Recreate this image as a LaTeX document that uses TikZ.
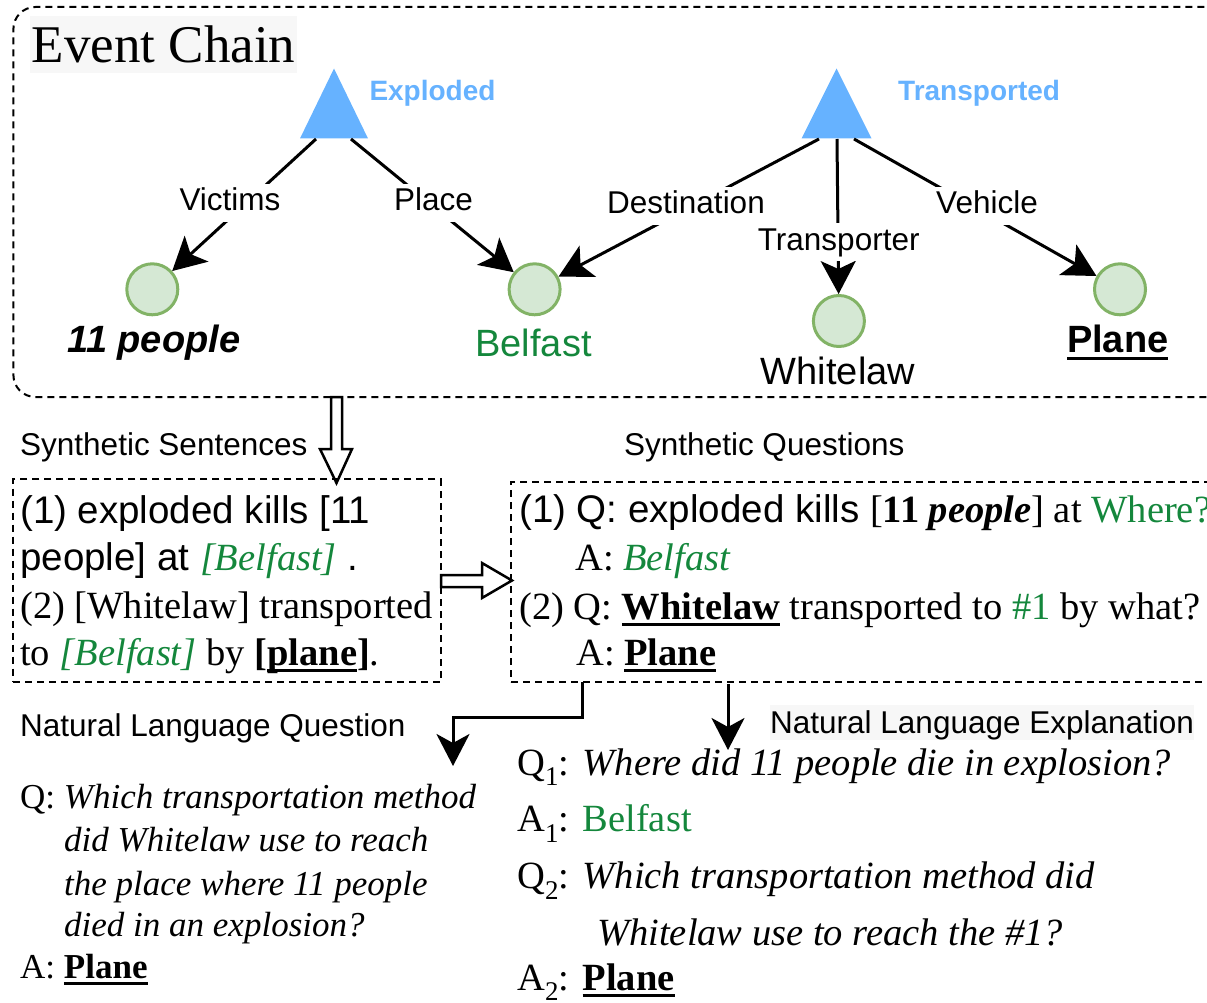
\documentclass[tikz,border=0pt]{standalone}
\usepackage{fontspec}
\setmainfont{Liberation Serif}
\setsansfont{Liberation Sans}
\usetikzlibrary{arrows.meta,calc}
\definecolor{tgreen}{RGB}{20,135,60}
\definecolor{tblue}{HTML}{66B2FF}
\definecolor{cfill}{HTML}{D5E8D4}
\definecolor{cstroke}{HTML}{82B366}
\definecolor{lbg}{RGB}{247,247,247}
\newcommand{\myul}[1]{\setbox0=\hbox{#1}\rlap{\rule[-0.19em]{\wd0}{0.08em}}\box0}
\newcommand{\sbs}[1]{\raisebox{-0.28em}{\fontsize{27}{30}\selectfont #1}}
\newcommand{\fBig}{\fontsize{38.5}{46}\selectfont}
\newcommand{\fNode}{\fontsize{38}{44}\selectfont}
\newcommand{\fSec}{\fontsize{31.5}{36}\selectfont}
\newcommand{\fNLQ}{\fontsize{35}{42}\selectfont}
\tikzset{
  dbox/.style={draw, line width=2pt, dash pattern=on 7pt off 5pt, inner sep=0pt, outer sep=0pt},
  ent/.style={circle, draw=cstroke, fill=cfill, line width=3pt, minimum size=51pt, inner sep=0pt},
  earr/.style={line width=3pt, -{Stealth[length=33pt,width=35pt,inset=8pt]}},
  carr/.style={line width=3pt, -{Stealth[length=32pt,width=33pt,inset=9pt]}},
  elab/.style={fill=white, font=\sffamily\fSec, inner xsep=2pt, inner ysep=3pt, text height=24pt, text depth=8pt, anchor=base},
  ntxt/.style={font=\sffamily\fNode, inner sep=0pt, anchor=base},
  evl/.style={font=\sffamily\bfseries\fontsize{28}{32}\selectfont, text=tblue, inner sep=0pt, anchor=base west},
  sec/.style={font=\sffamily\fSec, inner sep=0pt, anchor=base west},
  bt/.style={font=\fBig, inner sep=0pt, anchor=base west},
  nt/.style={font=\fNLQ, inner sep=0pt, anchor=base west},
  hollow/.style={draw, line width=2.5pt, fill=white, line join=miter}
}
\begin{document}
\begin{tikzpicture}[x=1pt, y=-1pt]
\useasboundingbox (0,0) rectangle (1207,1003);

% Event chain frame
\node[dbox, rounded corners=22pt, anchor=north west, minimum width=1225pt, minimum height=390pt] (chain) at (13.4,7) {};
\node[fill=lbg, anchor=north west, minimum width=267pt, minimum height=57pt, inner sep=0pt, font=\fontsize{53}{60}\selectfont] (ectitle) at (30,16) {Event Chain};

% triggers
\fill[tblue] (300,138.5) -- (334,68.5) -- (368,138.5) -- cycle;
\fill[tblue] (801.5,138.5) -- (836.5,68.5) -- (871.5,138.5) -- cycle;
\coordinate (e1v) at (316,139);
\coordinate (e1p) at (351,139);
\coordinate (e2d) at (819,139);
\coordinate (e2t) at (837,139);
\coordinate (e2v) at (854,139);
\node[evl] (ev1) at (369.3,101) {Exploded};
\node[evl] (ev2) at (898,101) {Transported};

% entities
\node[ent] (c1) at (152.3,289.3) {};
\node[ent] (c2) at (534.6,289.3) {};
\node[ent] (c3) at (838.9,321) {};
\node[ent] (c4) at (1120,289.3) {};

% edges
\draw[earr] (e1v) -- (c1);
\draw[earr] (e1p) -- (c2);
\draw[earr] (e2d) -- (c2);
\draw[earr] (e2t) -- (c3);
\draw[earr] (e2v) -- (c4);

% edge labels
\node[elab] (lv) at (230,210.7) {Victims};
\node[elab] (lp) at (433.5,210.7) {Place};
\node[elab] (ld) at (686,214) {Destination};
\node[elab] (lt) at (838.7,250) {Transporter};
\node[elab] (lve) at (987,214) {Vehicle};

% entity names
\node[ntxt, font=\sffamily\bfseries\itshape\fNode] (n1) at (154,352.7) {11 people};
\node[ntxt, text=tgreen] (n2) at (533.5,356) {Belfast};
\node[ntxt] (n3) at (838,384) {Whitelaw};
\node[ntxt, font=\sffamily\bfseries\fNode] (n4) at (1117.7,352.7) {\myul{Plane}};

% hollow arrows
\draw[hollow] (331,397) -- (331,449) -- (320,449) -- (336.5,483) -- (352,449) -- (342,449) -- (342,397) -- cycle;
\draw[hollow] (441,575) -- (482,575) -- (482,563) -- (512,580.5) -- (482,598) -- (482,587) -- (441,587) -- cycle;

% section labels
\node[sec] (lss) at (20,455) {Synthetic Sentences};
\node[sec] (lsq) at (624,455) {Synthetic Questions};
\node[sec] (lnq) at (20,736) {Natural Language Question};
\node[sec, fill=lbg, text height=28pt, text depth=6.7pt] (lne) at (770,733.3) {Natural Language Explanation};

% synthetic sentences box
\node[dbox, anchor=north west, minimum width=427.7pt, minimum height=203pt] (ss) at (13,479) {};
\node[bt] (s1) at (20,523) {\sffamily (1) exploded kills [11};
\node[bt] (s2) at (20,570) {\sffamily people] at {\rmfamily\itshape\color{tgreen}[Belfast]} .};
\node[bt] (s3) at (20,618) {(2) [Whitelaw] transported};
\node[bt] (s4) at (20,665) {to {\itshape\color{tgreen}[Belfast]} by \textbf{[\myul{plane}]}.};

% synthetic questions box
\node[dbox, anchor=north west, minimum width=730pt, minimum height=200pt] (sq) at (511,482) {};
\node[bt] (q1) at (519,522) {{\sffamily (1) Q: exploded kills }[\textbf{11 \textit{people}}] at {\color{tgreen}Where?}};
\node[bt] (q1a) at (575,570) {A: {\itshape\color{tgreen}Belfast}};
\node[bt] (q2) at (519,619) {(2) Q: \textbf{\myul{Whitelaw}} transported to {\color{tgreen}\#1} by what?};
\node[bt] (q2a) at (576,665) {A: \textbf{\myul{Plane}}};

% connectors to the bottom sections
\coordinate (q1s) at (582.5,682);
\coordinate (nlqt) at (453,766);
\coordinate (q2s) at (728,684);
\coordinate (nlet) at (728,750);
\draw[carr] (q1s) |- ($(nlqt)+(0,-49)$) -- (nlqt);
\draw[carr] (q2s) -- (nlet);

% natural language question
\node[nt] (nq1) at (20,808) {Q: \textit{Which transportation method}};
\node[nt] (nq2) at (64,851.7) {\itshape did Whitelaw use to reach};
\node[nt] (nq3) at (64,895) {\itshape the place where 11 people};
\node[nt] (nq4) at (64,936.7) {\itshape died in an explosion?};
\node[nt] (nqa) at (20,978.3) {A: \textbf{\myul{Plane}}};

% natural language explanation
\node[bt] (ne1) at (517,775) {Q\sbs{1}:\hspace{0.35em}\textit{Where did 11 people die in explosion?}};
\node[bt] (ne2) at (517,831.7) {A\sbs{1}:\hspace{0.35em}{\color{tgreen}Belfast}};
\node[bt] (ne3) at (517,888.3) {Q\sbs{2}:\hspace{0.35em}\textit{Which transportation method did}};
\node[bt] (ne4) at (597,945) {\itshape Whitelaw use to reach the \#1?};
\node[bt] (ne5) at (517,990) {A\sbs{2}:\hspace{0.35em}\textbf{\myul{Plane}}};
\end{tikzpicture}
\end{document}
